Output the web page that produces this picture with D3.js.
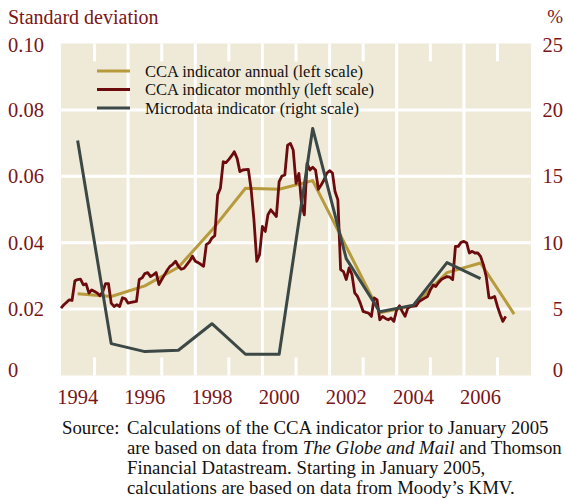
<!DOCTYPE html>
<html>
<head>
<meta charset="utf-8">
<script src="https://cdn.jsdelivr.net/npm/d3@7"></script>
<style>
body { margin: 0; background: #fff; }
svg { display: block; font-family: "Liberation Serif", "Times New Roman", serif; }
.ticklabel { fill: #7a1518; font-size: 20.5px; }
.legend text { fill: #111; font-size: 16.5px; }
.source text { fill: #111; font-size: 18.8px; }
</style>
</head>
<body>
<svg id="chart" width="565" height="500"></svg>
<script>

// annual CCA indicator, plotted at mid-year (left scale)
var annualYears = [1994, 1995, 1996, 1997, 1998, 1999, 2000, 2001, 2002, 2003, 2004, 2005, 2006, 2007];
var ccaAnnual = [0.0246, 0.0238, 0.0270, 0.0326, 0.0438, 0.0564, 0.0561, 0.0587, 0.0388, 0.0189, 0.0210, 0.0310, 0.0339, 0.0185];

// microdata indicator, % (right scale)
var microYears = [1994, 1995, 1996, 1997, 1998, 1999, 2000, 2001, 2002, 2003, 2004, 2005, 2006];
var microdata = [17.7, 2.4, 1.8, 1.9, 3.9, 1.6, 1.6, 18.6, 8.8, 4.8, 5.3, 8.5, 7.3];

// monthly CCA indicator, first value is January 1994 (left scale)
var monthlyStart = new Date(1994, 0, 1);
var ccaMonthly = [
  0.0203, 0.0213, 0.0220, 0.0228, 0.0226, 0.0285, 0.0289, 0.0290, 0.0273, 0.0276, 0.0248, 0.0258,
  0.0253, 0.0248, 0.0240, 0.0253, 0.0277, 0.0277, 0.0218, 0.0208, 0.0213, 0.0208, 0.0234, 0.0231,
  0.0218, 0.0220, 0.0222, 0.0223, 0.0289, 0.0294, 0.0307, 0.0310, 0.0298, 0.0303, 0.0310, 0.0274,
  0.0289, 0.0304, 0.0317, 0.0329, 0.0335, 0.0344, 0.0329, 0.0320, 0.0323, 0.0334, 0.0345, 0.0359,
  0.0344, 0.0340, 0.0335, 0.0329, 0.0394, 0.0400, 0.0414, 0.0421, 0.0544, 0.0564, 0.0644, 0.0641,
  0.0651, 0.0662, 0.0674, 0.0654, 0.0614, 0.0619, 0.0620, 0.0621, 0.0559, 0.0469, 0.0344, 0.0364,
  0.0449, 0.0434, 0.0484, 0.0499, 0.0489, 0.0479, 0.0584, 0.0601, 0.0604, 0.0694, 0.0699, 0.0679,
  0.0579, 0.0609, 0.0519, 0.0484, 0.0639, 0.0619, 0.0627, 0.0619, 0.0561, 0.0574, 0.0589, 0.0609,
  0.0617, 0.0610, 0.0554, 0.0529, 0.0319, 0.0313, 0.0289, 0.0324, 0.0304, 0.0249, 0.0238, 0.0218,
  0.0193, 0.0190, 0.0188, 0.0178, 0.0234, 0.0228, 0.0168, 0.0178, 0.0172, 0.0168, 0.0173, 0.0163,
  0.0198, 0.0210, 0.0193, 0.0178, 0.0203, 0.0208, 0.0209, 0.0210, 0.0223, 0.0228, 0.0233, 0.0238,
  0.0258, 0.0273, 0.0268, 0.0280, 0.0289, 0.0294, 0.0298, 0.0296, 0.0289, 0.0389, 0.0389, 0.0401,
  0.0404, 0.0399, 0.0369, 0.0374, 0.0369, 0.0369, 0.0359, 0.0334, 0.0298, 0.0234, 0.0234, 0.0238,
  0.0208, 0.0183, 0.0163, 0.0178
];

var leftTicks = [0, 0.02, 0.04, 0.06, 0.08, 0.10];
var rightTicks = [0, 5, 10, 15, 20, 25];
var yearLabels = [1994, 1996, 1998, 2000, 2002, 2004, 2006];
var legendLabels = ["CCA indicator annual (left scale)", "CCA indicator monthly (left scale)", "Microdata indicator (right scale)"];
var sourceLines = [
  [["Calculations of the CCA indicator prior to January 2005", false]],
  [["are based on data from ", false], ["The Globe and Mail", true], [" and Thomson", false]],
  [["Financial Datastream. Starting in January 2005,", false]],
  [["calculations are based on data from Moody\u2019s KMV.", false]]
];

var colors = {annual: "#b79a3c", monthly: "#6c0b0d", micro: "#3b4846", bg: "#efe9d7", text: "#7a1518"};

var margin = {top: 43.5, right: 34, bottom: 124.5, left: 61};
var width = 565 - margin.left - margin.right;
var height = 500 - margin.top - margin.bottom;

var svg = d3.select("#chart");
var g = svg.append("g")
    .attr("transform", "translate(" + margin.left + "," + margin.top + ")");

var x = d3.scaleTime()
    .domain([new Date(1994, 0, 1), new Date(2008, 0, 1)])
    .range([0, width]);

var yL = d3.scaleLinear().domain([0, 0.10]).range([height, 0]);
var yR = d3.scaleLinear().domain([0, 25]).range([height, 0]);

// plot background
g.append("rect")
    .attr("width", width)
    .attr("height", height)
    .attr("fill", colors.bg);

// horizontal grid
g.append("g")
    .selectAll("line")
    .data(leftTicks.slice(1, -1))
    .join("line")
      .attr("x1", 0).attr("x2", width)
      .attr("y1", function(d) { return yL(d); })
      .attr("y2", function(d) { return yL(d); })
      .attr("stroke", "#fff")
      .attr("stroke-width", 3);

// full vertical grid at even years, short ticks at odd years
var evenYears = d3.range(1996, 2008, 2);
var oddYears = d3.range(1995, 2008, 2);

g.append("g")
    .selectAll("line")
    .data(evenYears)
    .join("line")
      .attr("x1", function(d) { return x(new Date(d, 0, 1)); })
      .attr("x2", function(d) { return x(new Date(d, 0, 1)); })
      .attr("y1", 0).attr("y2", height)
      .attr("stroke", "#fff")
      .attr("stroke-width", 3);

[[0, 18], [height - 18, height]].forEach(function(r) {
  g.append("g")
      .selectAll("line")
      .data(oddYears)
      .join("line")
        .attr("x1", function(d) { return x(new Date(d, 0, 1)); })
        .attr("x2", function(d) { return x(new Date(d, 0, 1)); })
        .attr("y1", r[0]).attr("y2", r[1])
        .attr("stroke", "#fff")
        .attr("stroke-width", 3);
});

// left tick labels
g.append("g")
    .selectAll("text")
    .data(leftTicks)
    .join("text")
      .attr("class", "ticklabel")
      .attr("x", 8 - margin.left)
      .attr("y", function(d) { return Math.min(Math.max(yL(d) + 7, 8.5), height + 1.5); })
      .text(function(d) { return d === 0 ? "0" : d3.format(".2f")(d); });

// right tick labels
g.append("g")
    .selectAll("text")
    .data(rightTicks)
    .join("text")
      .attr("class", "ticklabel")
      .attr("text-anchor", "end")
      .attr("x", width + 32)
      .attr("y", function(d) { return Math.min(Math.max(yR(d) + 7, 8.5), height + 1.5); })
      .text(function(d) { return d; });

// year labels, centred in the year
g.append("g")
    .selectAll("text")
    .data(yearLabels)
    .join("text")
      .attr("class", "ticklabel")
      .attr("text-anchor", "middle")
      .attr("x", function(d) { return x(new Date(d, 6, 1)); })
      .attr("y", height + 28)
      .text(function(d) { return d; });

// axis titles
svg.append("text")
    .attr("class", "ticklabel")
    .attr("x", 8).attr("y", 24)
    .style("font-size", "20px")
    .text("Standard deviation");

svg.append("text")
    .attr("class", "ticklabel")
    .attr("text-anchor", "end")
    .attr("x", 563).attr("y", 23)
    .style("font-size", "19px")
    .text("%");

// series
var monthlyData = ccaMonthly.map(function(v, i) { return {date: d3.timeMonth.offset(monthlyStart, i), value: v}; });
var annualData = annualYears.map(function(yr, i) { return {date: new Date(yr, 6, 1), value: ccaAnnual[i]}; });
var microData = microYears.map(function(yr, i) { return {date: new Date(yr, 6, 1), value: microdata[i]}; });

var lineL = d3.line()
    .x(function(d) { return x(d.date); })
    .y(function(d) { return yL(d.value); });

var lineR = d3.line()
    .x(function(d) { return x(d.date); })
    .y(function(d) { return yR(d.value); });

g.append("path")
    .datum(annualData)
    .attr("fill", "none")
    .attr("stroke", colors.annual)
    .attr("stroke-width", 3)
    .attr("stroke-linejoin", "round")
    .attr("d", lineL);

g.append("path")
    .datum(monthlyData)
    .attr("fill", "none")
    .attr("stroke", colors.monthly)
    .attr("stroke-width", 2.8)
    .attr("stroke-linejoin", "round")
    .attr("d", lineL);

g.append("path")
    .datum(microData)
    .attr("fill", "none")
    .attr("stroke", colors.micro)
    .attr("stroke-width", 3)
    .attr("stroke-linejoin", "round")
    .attr("d", lineR);

// legend
var legendColors = [colors.annual, colors.monthly, colors.micro];
var legend = svg.append("g")
    .attr("class", "legend")
    .selectAll("g")
    .data(legendLabels)
    .join("g")
      .attr("transform", function(d, i) { return "translate(97," + (71 + i * 18.5) + ")"; });

legend.append("line")
    .attr("x1", 0).attr("x2", 33)
    .attr("stroke", function(d, i) { return legendColors[i]; })
    .attr("stroke-width", 3);

legend.append("text")
    .attr("x", 48).attr("y", 5.5)
    .text(function(d) { return d; });

// source note
var source = svg.append("g").attr("class", "source");

source.append("text")
    .attr("x", 62).attr("y", 434)
    .text("Source:");

source.selectAll("text.line")
    .data(sourceLines)
    .join("text")
      .attr("class", "line")
      .attr("x", 127)
      .attr("y", function(d, i) { return 434 + i * 20; })
    .selectAll("tspan")
    .data(function(d) { return d; })
    .join("tspan")
      .style("font-style", function(d) { return d[1] ? "italic" : null; })
      .text(function(d) { return d[0]; });

</script>
</body>
</html>
